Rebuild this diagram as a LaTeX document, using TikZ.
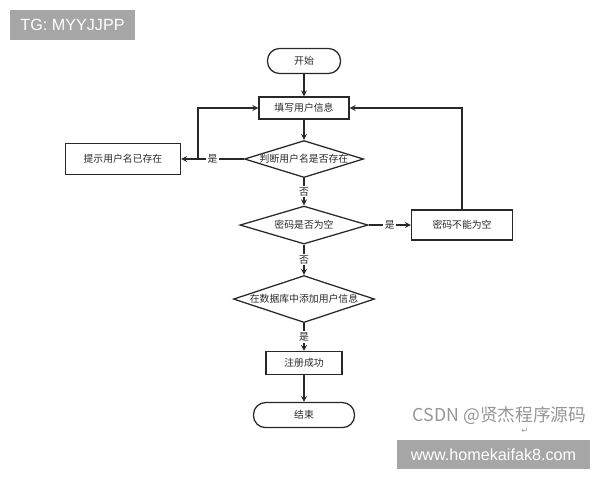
\documentclass[tikz,border=0pt]{standalone}
\usepackage{fontspec}
\setmainfont{Noto Sans CJK SC}
\newfontfamily\wmfont{Liberation Sans}
\newfontfamily\symfont{DejaVu Sans}
\usepackage{tikz}
\usetikzlibrary{arrows,shapes,positioning}
\usepackage{xcolor}
\definecolor{flowgray}{RGB}{40,40,40}
\definecolor{wmgray}{RGB}{166,166,166}
\definecolor{wmtext}{RGB}{150,150,150}
\tikzstyle{arrow} = [line width=0.9pt,->,>=stealth,color=flowgray]
\tikzstyle{terminal} = [rectangle, rounded corners=0.3cm, minimum width=1.825cm, minimum height=0.625cm, text centered, draw=flowgray, line width=0.9pt, text=flowgray, font=\fontsize{7pt}{8pt}\selectfont]
\tikzstyle{process} = [rectangle, text centered, draw=flowgray, line width=0.9pt, text=flowgray, font=\fontsize{7pt}{8pt}\selectfont]
\tikzstyle{decision} = [diamond, aspect=3.2, inner sep=0pt, text centered, draw=flowgray, line width=0.9pt, text=flowgray, font=\fontsize{7pt}{8pt}\selectfont]
\tikzstyle{answer} = [fill=white, inner sep=1pt, text=flowgray, font=\fontsize{7pt}{8pt}\selectfont]
\tikzstyle{watermark} = [rectangle, fill=wmgray, text=white, font=\wmfont\fontsize{11.5pt}{13pt}\selectfont]

\begin{document}
\begin{tikzpicture}[x=0.025cm, y=-0.025cm]
\useasboundingbox (0,0) rectangle (600,480);
% Watermarks
\node (tg) [watermark, minimum width=3.125cm, minimum height=0.75cm] at (72.5,25) {TG: MYYJJPP};
\node (csdn) [anchor=west, text=wmtext, font=\fontsize{12.6pt}{15pt}\selectfont] at (408,416) {CSDN @贤杰程序源码};
\node (ret) [text=wmtext, font=\symfont\fontsize{6pt}{7pt}\selectfont] at (525,431) {↵};
\node (site) [watermark, minimum width=4.825cm, minimum height=0.725cm] at (493.5,454.5) {www.homekaifak8.com};

% Main flow
\node (start) [terminal] at (304,61) {开始};
\node (fillin) [process, below of=start, node distance=1.175cm, minimum width=2.25cm, minimum height=0.55cm] {填写用户信息};
\node (checkname) [decision, below of=fillin, node distance=1.275cm, minimum width=2.975cm, minimum height=0.925cm] {判断用户名是否存在};
\node (nameexists) [process, left of=checkname, node distance=4.525cm, minimum width=2.875cm, minimum height=0.775cm] {提示用户名已存在};
\node (checkpw) [decision, below of=checkname, node distance=1.65cm, aspect=3.37, minimum width=3.2cm, minimum height=0.95cm] {密码是否为空};
\node (pwempty) [process, right of=checkpw, node distance=3.95cm, minimum width=2.525cm, minimum height=0.75cm] {密码不能为空};
\node (adduser) [decision, below of=checkpw, node distance=1.85cm, aspect=3, minimum width=3.525cm, minimum height=1.175cm] {在数据库中添加用户信息};
\node (success) [process, below of=adduser, node distance=1.6cm, minimum width=1.9cm, minimum height=0.575cm] {注册成功};
\node (finish) [terminal, below of=success, node distance=1.3cm, minimum width=2.525cm] {结束};

% Arrows
\draw[arrow] (start) -- (fillin);
\draw[arrow] (fillin) -- (checkname);
\draw[arrow] (checkname) -- node[answer] {是} (nameexists);
\coordinate (backleft) at (198,159);
\draw[arrow] (backleft) |- (fillin);
\draw[arrow] (checkname) -- node[answer] {否} (checkpw);
\draw[arrow] (checkpw) -- node[answer] {是} (pwempty);
\draw[arrow] (pwempty) |- (fillin);
\draw[arrow] (checkpw) -- node[answer] {否} (adduser);
\draw[arrow] (adduser) -- node[answer] {是} (success);
\draw[arrow] (success) -- (finish);
\end{tikzpicture}
\end{document}
